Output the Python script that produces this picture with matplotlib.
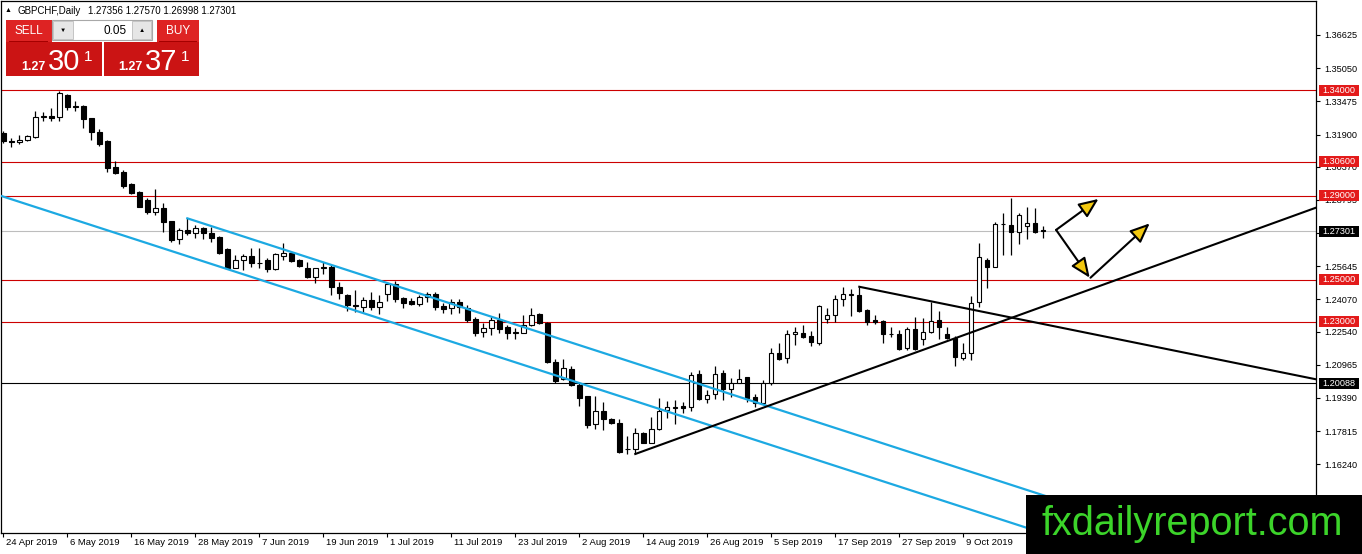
import matplotlib.pyplot as plt
from matplotlib.patches import Rectangle
from matplotlib.transforms import Affine2D, blended_transform_factory

plt.rcParams['font.family'] = ['Liberation Sans', 'DejaVu Sans']

# GBPCHF daily candles, 24 Apr 2019 .. 23 Oct 2019
opens = [1.3195, 1.3157, 1.3153, 1.3164, 1.3180, 1.3274, 1.3278, 1.3272, 1.3378, 1.3324,
         1.3327, 1.3267, 1.3204, 1.3159, 1.3037, 1.3014, 1.2953, 1.2919, 1.2879, 1.2824,
         1.2840, 1.2779, 1.2692, 1.2737, 1.2721, 1.2744, 1.2721, 1.2705, 1.2646, 1.2558,
         1.2594, 1.2613, 1.2580, 1.2594, 1.2550, 1.2615, 1.2629, 1.2594, 1.2555, 1.2515,
         1.2558, 1.2559, 1.2464, 1.2428, 1.2379, 1.2370, 1.2404, 1.2369, 1.2431, 1.2480,
         1.2412, 1.2399, 1.2384, 1.2417, 1.2433, 1.2376, 1.2365, 1.2393, 1.2368, 1.2312,
         1.2251, 1.2270, 1.2309, 1.2275, 1.2247, 1.2249, 1.2286, 1.2336, 1.2297, 1.2108,
         1.2028, 1.2075, 1.2001, 1.1948, 1.1814, 1.1877, 1.1838, 1.1819, 1.1697, 1.1695,
         1.1771, 1.1727, 1.1790, 1.1882, 1.1893, 1.1901, 1.1898, 1.2051, 1.1932, 1.1956,
         1.2056, 1.1980, 1.2011, 1.2037, 1.1945, 1.1917, 1.2008, 1.2151, 1.2127, 1.2242,
         1.2246, 1.2233, 1.2202, 1.2312, 1.2333, 1.2407, 1.2430, 1.2428, 1.2357, 1.2309,
         1.2306, 1.2244, 1.2243, 1.2175, 1.2265, 1.2218, 1.2254, 1.2309, 1.2243, 1.2222,
         1.2127, 1.2151, 1.2396, 1.2594, 1.2563, 1.2763, 1.2760, 1.2729, 1.2756, 1.2772,
         1.27356]
highs = [1.3205, 1.3172, 1.3188, 1.3188, 1.3302, 1.3295, 1.3318, 1.3397, 1.3381, 1.3349,
         1.3330, 1.3269, 1.3216, 1.3162, 1.3064, 1.3022, 1.2961, 1.2922, 1.2887, 1.2931,
         1.2863, 1.2781, 1.2744, 1.2792, 1.2760, 1.2752, 1.2752, 1.2707, 1.2653, 1.2618,
         1.2621, 1.2650, 1.2653, 1.2605, 1.2626, 1.2673, 1.2634, 1.2597, 1.2586, 1.2558,
         1.2583, 1.2570, 1.2488, 1.2431, 1.2452, 1.2420, 1.2444, 1.2428, 1.2488, 1.2496,
         1.2420, 1.2412, 1.2428, 1.2444, 1.2444, 1.2388, 1.2407, 1.2407, 1.2380, 1.2325,
         1.2293, 1.2325, 1.2341, 1.2286, 1.2270, 1.2333, 1.2365, 1.2344, 1.2302, 1.2122,
         1.2122, 1.2091, 1.2016, 1.1950, 1.1948, 1.1921, 1.1842, 1.1838, 1.1758, 1.1795,
         1.1779, 1.1847, 1.1937, 1.1926, 1.1929, 1.1921, 1.2064, 1.2072, 1.1977, 1.2091,
         1.2072, 1.2032, 1.2075, 1.2040, 1.1958, 1.2024, 1.2175, 1.2198, 1.2262, 1.2274,
         1.2286, 1.2258, 1.2381, 1.2365, 1.2428, 1.2467, 1.2455, 1.2467, 1.2360, 1.2333,
         1.2309, 1.2274, 1.2262, 1.2278, 1.2325, 1.2317, 1.2396, 1.2354, 1.2278, 1.2233,
         1.2199, 1.2423, 1.2673, 1.2602, 1.2776, 1.2819, 1.2887, 1.2816, 1.2847, 1.2840,
         1.27570]
lows = [1.3150, 1.3132, 1.3143, 1.3161, 1.3172, 1.3254, 1.3254, 1.3254, 1.3307, 1.3302,
        1.3219, 1.3164, 1.3137, 1.3010, 1.3001, 1.2934, 1.2906, 1.2844, 1.2811, 1.2808,
        1.2729, 1.2681, 1.2669, 1.2713, 1.2700, 1.2692, 1.2681, 1.2621, 1.2551, 1.2555,
        1.2547, 1.2563, 1.2558, 1.2539, 1.2547, 1.2594, 1.2586, 1.2559, 1.2510, 1.2483,
        1.2526, 1.2428, 1.2409, 1.2352, 1.2349, 1.2349, 1.2357, 1.2336, 1.2401, 1.2396,
        1.2365, 1.2380, 1.2376, 1.2396, 1.2357, 1.2341, 1.2336, 1.2341, 1.2301, 1.2233,
        1.2227, 1.2238, 1.2246, 1.2217, 1.2217, 1.2246, 1.2281, 1.2290, 1.2103, 1.2012,
        1.2024, 1.1996, 1.1901, 1.1798, 1.1790, 1.1787, 1.1814, 1.1679, 1.1673, 1.1673,
        1.1724, 1.1724, 1.1787, 1.1842, 1.1814, 1.1866, 1.1879, 1.1929, 1.1913, 1.1932,
        1.1929, 1.1945, 1.2008, 1.1921, 1.1898, 1.1914, 1.2001, 1.2119, 1.2103, 1.2191,
        1.2222, 1.2186, 1.2191, 1.2297, 1.2301, 1.2376, 1.2328, 1.2349, 1.2286, 1.2290,
        1.2198, 1.2227, 1.2167, 1.2167, 1.2167, 1.2191, 1.2249, 1.2218, 1.2218, 1.2091,
        1.2119, 1.2119, 1.2373, 1.2460, 1.2560, 1.2618, 1.2618, 1.2670, 1.2692, 1.2721,
        1.26998]
closes = [1.3160, 1.3155, 1.3164, 1.3183, 1.3275, 1.3276, 1.3267, 1.3386, 1.3322, 1.3321,
          1.3262, 1.3204, 1.3145, 1.3033, 1.3006, 1.2947, 1.2911, 1.2847, 1.2824, 1.2843,
          1.2773, 1.2689, 1.2737, 1.2721, 1.2744, 1.2721, 1.2700, 1.2626, 1.2558, 1.2594,
          1.2613, 1.2578, 1.2578, 1.2550, 1.2621, 1.2626, 1.2589, 1.2566, 1.2515, 1.2555,
          1.2560, 1.2464, 1.2436, 1.2381, 1.2376, 1.2404, 1.2373, 1.2396, 1.2480, 1.2409,
          1.2392, 1.2384, 1.2417, 1.2431, 1.2373, 1.2363, 1.2393, 1.2373, 1.2309, 1.2249,
          1.2270, 1.2309, 1.2267, 1.2246, 1.2250, 1.2286, 1.2333, 1.2293, 1.2108, 1.2021,
          1.2080, 1.2001, 1.1937, 1.1811, 1.1877, 1.1838, 1.1819, 1.1684, 1.1695, 1.1771,
          1.1727, 1.1790, 1.1877, 1.1894, 1.1895, 1.1890, 1.2048, 1.1932, 1.1953, 1.2053,
          1.1980, 1.2008, 1.2027, 1.1937, 1.1914, 1.2008, 1.2151, 1.2122, 1.2241, 1.2254,
          1.2230, 1.2206, 1.2376, 1.2333, 1.2407, 1.2431, 1.2432, 1.2354, 1.2301, 1.2301,
          1.2243, 1.2243, 1.2170, 1.2265, 1.2170, 1.2254, 1.2306, 1.2278, 1.2222, 1.2132,
          1.2151, 1.2392, 1.2610, 1.2563, 1.2765, 1.2765, 1.2729, 1.2808, 1.2772, 1.2729,
          1.27301]

date_labels = ['24 Apr 2019', '6 May 2019', '16 May 2019', '28 May 2019', '7 Jun 2019',
               '19 Jun 2019', '1 Jul 2019', '11 Jul 2019', '23 Jul 2019', '2 Aug 2019',
               '14 Aug 2019', '26 Aug 2019', '5 Sep 2019', '17 Sep 2019', '27 Sep 2019',
               '9 Oct 2019']
price_ticks = [1.36625, 1.35050, 1.33475, 1.31900, 1.30370, 1.28795, 1.27220, 1.25645,
               1.24070, 1.22540, 1.20965, 1.19390, 1.17815, 1.16240, 1.14665]
red_levels = [1.34000, 1.30600, 1.29000, 1.25000, 1.23000]
black_level = 1.20088
last_price = 1.27301
ohlc_header = '1.27356 1.27570 1.26998 1.27301'

# drawn objects: (bar index, price) anchors
channel_lower = ([0, 130], [1.2895, 1.1297])
channel_upper = ([23, 130], [1.2792, 1.1477])
trend_up = ([79, 130], [1.1673, 1.2374])
trend_down = ([107, 130], [1.2467, 1.2290])
arrows = [((131.6, 1.2737), (136.9, 1.2884)),
          ((131.6, 1.2737), (135.8, 1.2510)),
          ((135.9, 1.2510), (143.3, 1.2768))]

W, H = 1362, 554
fig = plt.figure(figsize=(W / 100, H / 100), dpi=100)
ax = fig.add_axes([1 / W, 21 / H, 1315 / W, 532 / H])
ax.set_xlim(-0.29, 164.09)
ax.set_ylim(1.12978, 1.38239)
for s in ax.spines.values():
    s.set_color('black')
    s.set_linewidth(0.9)


def ray(pts, x0, x1, **kw):
    (xa, xb), (ya, yb) = pts
    k = (yb - ya) / (xb - xa)
    ax.plot([x0, x1], [ya + k * (x0 - xa), ya + k * (x1 - xa)], **kw)


# horizontal levels
for lv in red_levels:
    ax.axhline(lv, color='#CC0000', lw=0.8, zorder=1)
ax.axhline(black_level, color='black', lw=0.8, zorder=1)
ax.axhline(last_price, color='#BDBDBD', lw=0.8, zorder=1)

# candles
for i in range(len(opens)):
    o, h, l, c = opens[i], highs[i], lows[i], closes[i]
    ax.vlines(i, l, h, color='black', lw=0.9, zorder=3)
    body = max(abs(c - o), 0.00004)
    ax.bar(i, body, bottom=min(o, c), width=0.55,
           color='white' if c > o else 'black', edgecolor='black', lw=0.8, zorder=4)

# channel and trend lines
cyan = '#1CA9E2'
ray(channel_lower, -1, 150, color=cyan, lw=1.6, zorder=5)
ray(channel_upper, channel_upper[0][0], 150, color=cyan, lw=1.6, zorder=5)
ray(trend_up, trend_up[0][0], 170, color='black', lw=1.5, zorder=5)
ray(trend_down, trend_down[0][0], 170, color='black', lw=1.5, zorder=5)

for start, end in arrows:
    ax.annotate('', xy=end, xytext=start,
                arrowprops=dict(arrowstyle='-|>,head_length=0.75,head_width=0.32',
                                mutation_scale=16, fc='#F2C80F', ec='black', lw=1.5,
                                shrinkA=0, shrinkB=0), zorder=6)

# right price axis
ax.yaxis.tick_right()
ax.set_yticks(price_ticks)
ax.set_yticklabels([f'{v:.5f}' for v in price_ticks])
ax.tick_params(axis='y', direction='out', length=3, pad=3, labelsize=6.6, width=0.8)
ax.set_xticks(range(0, 8 * len(date_labels), 8))
ax.set_xticklabels([])
ax.tick_params(axis='x', direction='out', length=3, width=0.8)

ybox = blended_transform_factory(ax.transAxes, ax.transData)
for lv, col in [(v, '#E31A1A') for v in red_levels] + [(last_price, 'black'), (black_level, 'black')]:
    ax.add_patch(Rectangle((1.0023, lv - 0.0026), 0.0304, 0.0052, transform=ybox,
                           fc=col, ec='none', clip_on=False, zorder=7))
    ax.text(1.0048, lv, f'{lv:.5f}', transform=ybox, color='white', fontsize=6.6,
            va='center', ha='left', zorder=8, clip_on=False)

xlab = blended_transform_factory(ax.transData, ax.transAxes)
for k, lab in enumerate(date_labels):
    ax.text(8 * k + 0.3, -0.018, lab, transform=xlab, fontsize=6.8, va='center',
            ha='left', clip_on=False)

# overlay in pixel coordinates (origin top-left)
pix = Affine2D().scale(1 / W, -1 / H).translate(0, 1) + fig.transFigure


def box(x, y, w, h, **kw):
    fig.patches.append(Rectangle((x, y), w, h, transform=pix, zorder=10, **kw))


def txt(x, y, s, **kw):
    fig.text(x, y, s, transform=pix, zorder=11, **kw)


txt(8, 11, '\u25B2', fontsize=5, va='center', ha='center')
txt(18, 11, 'GBPCHF,Daily', fontsize=7, va='center')
txt(88, 11, ohlc_header, fontsize=7, va='center')

# one-click trading panel
box(6, 20, 45.7, 21.7, fc='#DE2323', ec='none')
box(156.7, 20, 42.3, 21.7, fc='#DE2323', ec='none')
box(6, 41.7, 95.7, 34.3, fc='#CB1414', ec='none')
box(104.3, 41.7, 94.7, 34.3, fc='#CB1414', ec='none')
box(9, 41.2, 39, 0.9, fc='#A50000', ec='none')
box(159, 41.2, 38, 0.9, fc='#A50000', ec='none')
box(52, 20, 100, 20, fc='white', ec='#A8A8A8', lw=0.8)
box(53, 21, 20, 18, fc='#E6E6E6', ec='#BDBDBD', lw=0.6)
box(132, 21, 19, 18, fc='#E6E6E6', ec='#BDBDBD', lw=0.6)
txt(63, 30, '\u25BC', fontsize=4.5, ha='center', va='center')
txt(141.5, 30, '\u25B2', fontsize=4.5, ha='center', va='center')
txt(127, 30.5, '0.05', fontsize=8.5, ha='right', va='center')
txt(28.5, 31, 'SELL', fontsize=8.5, color='white', ha='center', va='center')
txt(178, 31, 'BUY', fontsize=8.5, color='white', ha='center', va='center')
txt(21, 70, '1.27', fontsize=9, color='white', weight='bold', va='baseline')
txt(48, 70, '30', fontsize=21, color='white', va='baseline')
txt(84, 61, '1', fontsize=11, color='white', va='baseline')
txt(118, 70, '1.27', fontsize=9, color='white', weight='bold', va='baseline')
txt(145, 70, '37', fontsize=21, color='white', va='baseline')
txt(181, 61, '1', fontsize=11, color='white', va='baseline')

# watermark
box(1025.7, 495, 340, 62, fc='black', ec='none')
txt(1192.5, 535, 'fxdailyreport.com', fontsize=28.5, color='#3CD42A', ha='center',
    va='baseline')

fig.savefig('out.png', dpi=100)
